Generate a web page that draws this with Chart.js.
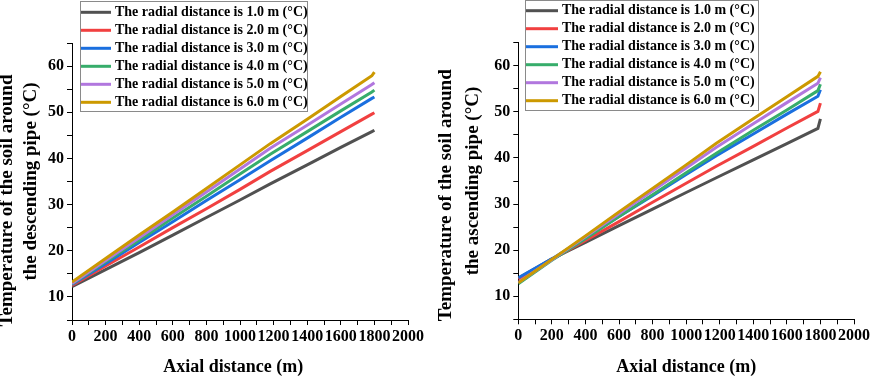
<!DOCTYPE html>
<html>
<head>
<meta charset="utf-8">
<script src="https://cdn.jsdelivr.net/npm/chart.js@4.4.1/dist/chart.umd.min.js"></script>
<style>
  html, body { margin: 0; padding: 0; background: #fff; }
  body { width: 872px; height: 378px; position: relative; overflow: hidden; }
  canvas { position: absolute; top: 0; }
  #chart1 { left: 0; }
  #chart2 { left: 436px; }
</style>
</head>
<body>
<canvas id="chart1" width="436" height="378"></canvas>
<canvas id="chart2" width="436" height="378"></canvas>
<script>
// axial distance (m) where the curves were read
const axial = [0, 200, 400, 600, 800, 1000, 1180, 1400, 1600, 1785, 1800];

const radialLabels = [
  'The radial distance is 1.0 m (°C)',
  'The radial distance is 2.0 m (°C)',
  'The radial distance is 3.0 m (°C)',
  'The radial distance is 4.0 m (°C)',
  'The radial distance is 5.0 m (°C)',
  'The radial distance is 6.0 m (°C)'
];

// soil temperature around the descending pipe (°C)
const desc1 = [12.2, 15.9, 19.6, 23.4, 27.2, 31.0, 34.5, 38.6, 42.4, 45.8, 46.1];
const desc2 = [12.5, 16.7, 20.8, 25.0, 29.1, 33.3, 37.2, 41.7, 45.8, 49.6, 49.9];
const desc3 = [12.7, 17.2, 21.8, 26.3, 30.9, 35.4, 39.5, 44.4, 48.9, 53.0, 53.3];
const desc4 = [12.8, 17.6, 22.3, 27.1, 31.8, 36.6, 40.9, 45.8, 50.3, 54.4, 54.8];
const desc5 = [12.9, 17.9, 22.8, 27.8, 32.7, 37.7, 42.2, 47.2, 51.8, 56.0, 56.4];
const desc6 = [13.2, 18.3, 23.4, 28.4, 33.5, 38.6, 43.2, 48.5, 53.4, 57.9, 58.7];

// soil temperature around the ascending pipe (°C)
const asc1 = [13.9, 18.1, 21.7, 25.3, 28.9, 32.5, 35.7, 39.6, 43.1, 46.4, 48.5];
const asc2 = [13.7, 18.0, 22.1, 26.2, 30.4, 34.5, 38.2, 42.5, 46.5, 50.1, 51.9];
const asc3 = [14.0, 18.1, 22.7, 27.3, 31.8, 36.4, 40.5, 45.2, 49.5, 53.4, 54.8];
const asc4 = [12.7, 17.8, 22.5, 27.3, 32.0, 36.8, 41.0, 46.0, 50.4, 54.6, 56.0];
const asc5 = [13.0, 17.9, 22.9, 27.9, 32.9, 37.8, 42.3, 47.4, 52.0, 56.2, 57.4];
const asc6 = [12.9, 18.0, 23.1, 28.3, 33.4, 38.5, 43.2, 48.5, 53.3, 57.7, 58.7];

const xTicksMajor = 200;
const yTicksMajor = 10;

const colors = ['#515151', '#F14040', '#1A6FDF', '#37AD6B', '#B177DE', '#CC9900'];
const serif = '"Liberation Serif", "Times New Roman", serif';

function makeDatasets(series) {
  return series.map((vals, i) => ({
    label: radialLabels[i],
    data: vals.map((v, j) => ({ x: axial[j], y: v })),
    borderColor: colors[i],
    backgroundColor: colors[i],
    borderWidth: 3,
    pointRadius: 0,
    tension: 0,
    order: series.length - i
  }));
}

// legend box drawn inside the plot, partly above the axis top
const boxLegend = {
  id: 'boxLegend',
  afterDraw(chart, args, opts) {
    const ctx = chart.ctx;
    ctx.save();
    ctx.fillStyle = '#fff';
    ctx.fillRect(opts.x, opts.y, opts.w, opts.h);
    ctx.strokeStyle = '#8a8a8a';
    ctx.lineWidth = 1;
    ctx.strokeRect(opts.x + 0.5, opts.y + 0.5, opts.w, opts.h);
    ctx.font = 'bold 14px ' + serif;
    ctx.textBaseline = 'middle';
    chart.data.datasets.forEach((ds, i) => {
      const y = opts.y + opts.first + i * 18;
      ctx.strokeStyle = ds.borderColor;
      ctx.lineWidth = 3;
      ctx.beginPath();
      ctx.moveTo(opts.x + 1, y);
      ctx.lineTo(opts.x + 1 + opts.swatch, y);
      ctx.stroke();
      ctx.fillStyle = '#000';
      ctx.fillText(ds.label, opts.x + opts.swatch + 5, y);
    });
    ctx.restore();
  }
};

function makeOptions(cfg) {
  return {
    responsive: false,
    animation: false,
    layout: { padding: { left: 0, top: cfg.top, right: cfg.right, bottom: 0 } },
    plugins: {
      legend: { display: false },
      tooltip: { enabled: false },
      boxLegend: cfg.legend
    },
    scales: {
      x: {
        type: 'linear',
        min: 0,
        max: 2000,
        afterFit: s => { s.height = cfg.xHeight; },
        border: { color: '#000', width: 1 },
        grid: { drawOnChartArea: false, color: '#000', tickLength: 5 },
        ticks: {
          stepSize: 100,
          autoSkip: false,
          maxRotation: 0,
          padding: 2,
          color: '#000',
          font: { family: serif, size: 16, weight: 'bold' },
          callback: v => v % xTicksMajor === 0 ? v : ''
        },
        title: {
          display: true,
          text: cfg.xTitle,
          color: '#000',
          font: { family: serif, size: 18, weight: 'bold' },
          padding: 0
        }
      },
      y: {
        min: 5,
        max: 65,
        afterFit: s => { s.width = cfg.yWidth; },
        border: { color: '#000', width: 1 },
        grid: { drawOnChartArea: false, color: '#000', tickLength: 5 },
        ticks: {
          stepSize: 5,
          autoSkip: false,
          padding: 3,
          color: '#000',
          font: { family: serif, size: 16, weight: 'bold' },
          callback: v => v % yTicksMajor === 0 ? v : ''
        },
        title: {
          display: true,
          text: cfg.yTitle,
          color: '#000',
          font: { family: serif, size: 19, weight: 'bold', lineHeight: cfg.titleLh },
          padding: { top: cfg.titlePad, bottom: 0 }
        }
      }
    }
  };
}

new Chart(document.getElementById('chart1'), {
  type: 'line',
  data: { datasets: makeDatasets([desc1, desc2, desc3, desc4, desc5, desc6]) },
  options: makeOptions({
    top: 43, right: 28, xHeight: 58, yWidth: 72,
    xTitle: 'Axial distance (m)   ',
    yTitle: ['Temperature of the soil around        ', 'the descending pipe (°C)'],
    titleLh: 1.26, titlePad: -4.5,
    legend: { x: 80, y: 1, w: 227, h: 110, first: 11.3, swatch: 30 }
  }),
  plugins: [boxLegend]
});

new Chart(document.getElementById('chart2'), {
  type: 'line',
  data: { datasets: makeDatasets([asc1, asc2, asc3, asc4, asc5, asc6]) },
  options: makeOptions({
    top: 42.7, right: 15.3, xHeight: 58.7, yWidth: 82.3,
    xTitle: 'Axial distance (m)',
    yTitle: ['Temperature of the soil around      ', 'the ascending pipe (°C)'],
    titleLh: 1.4, titlePad: -2.8,
    legend: { x: 89, y: 0, w: 233, h: 110, first: 10.7, swatch: 32 }
  }),
  plugins: [boxLegend]
});
</script>
</body>
</html>
